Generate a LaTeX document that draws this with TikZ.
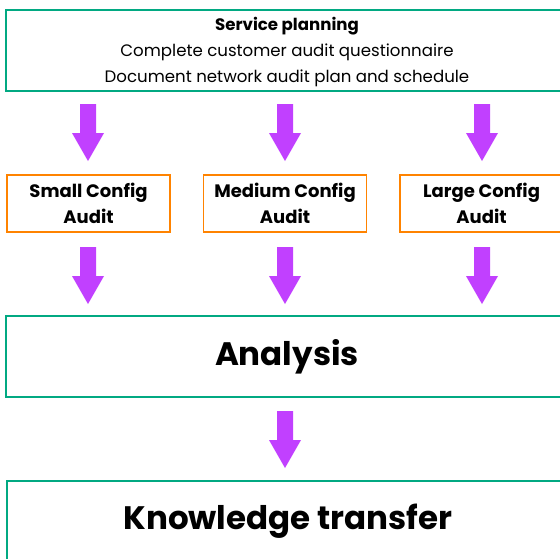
\documentclass[tikz,border=0pt]{standalone}
\usepackage{fontspec}
\setmainfont{Poppins}
\definecolor{hpegreen}{HTML}{01A982}
\definecolor{hpeorange}{HTML}{FF8300}
\definecolor{hpepurple}{HTML}{C140FF}
\begin{document}
\begin{tikzpicture}[x=1pt,y=-1pt,
  greenbox/.style={draw=hpegreen,line width=2pt,inner sep=0pt,outer sep=0pt,align=center},
  orangebox/.style={draw=hpeorange,line width=1.6pt,inner sep=0pt,outer sep=0pt,align=center,
     minimum width=163pt,minimum height=57pt,font=\fontsize{18}{26.5}\selectfont\bfseries},
  bigtext/.style={font=\fontsize{32.5}{38}\selectfont\bfseries},
  blockarrow/.pic={\fill[hpepurple] (-8,0) -- (8,0) -- (8,29) -- (16,29) -- (0,57) -- (-16,29) -- (-8,29) -- cycle;}
]
\useasboundingbox (0,0) rectangle (560,558);
\clip (0,0) rectangle (560,558);
% top box
\draw[hpegreen,line width=2pt] (6,10) rectangle (570,91);
\node[align=center,inner sep=0pt,font=\fontsize{16.6}{26}\selectfont] (plan) at (287,52)
  {\textbf{Service planning}\\Complete customer audit questionnaire\\Document network audit plan and schedule};
% config boxes
\node[orangebox] (small) at (88.5,203.5) {Small Config\\Audit};
\node[orangebox] (medium) at (285,203.5) {Medium Config\\Audit};
\node[orangebox] (large) at (481.5,203.5) {Large Config\\Audit};
% analysis
\node[greenbox,minimum width=562pt,minimum height=81pt,bigtext] (analysis) at (287,356.5) {Analysis};
% knowledge
\node[greenbox,minimum width=562pt,minimum height=81pt,bigtext] (knowledge) at (288,521.5) {Knowledge transfer};
% arrows
\foreach \x in {88,285,482}{
  \pic at (\x,104) {blockarrow};
  \pic at (\x,247) {blockarrow};
}
\pic at (285,411) {blockarrow};
\end{tikzpicture}
\end{document}
